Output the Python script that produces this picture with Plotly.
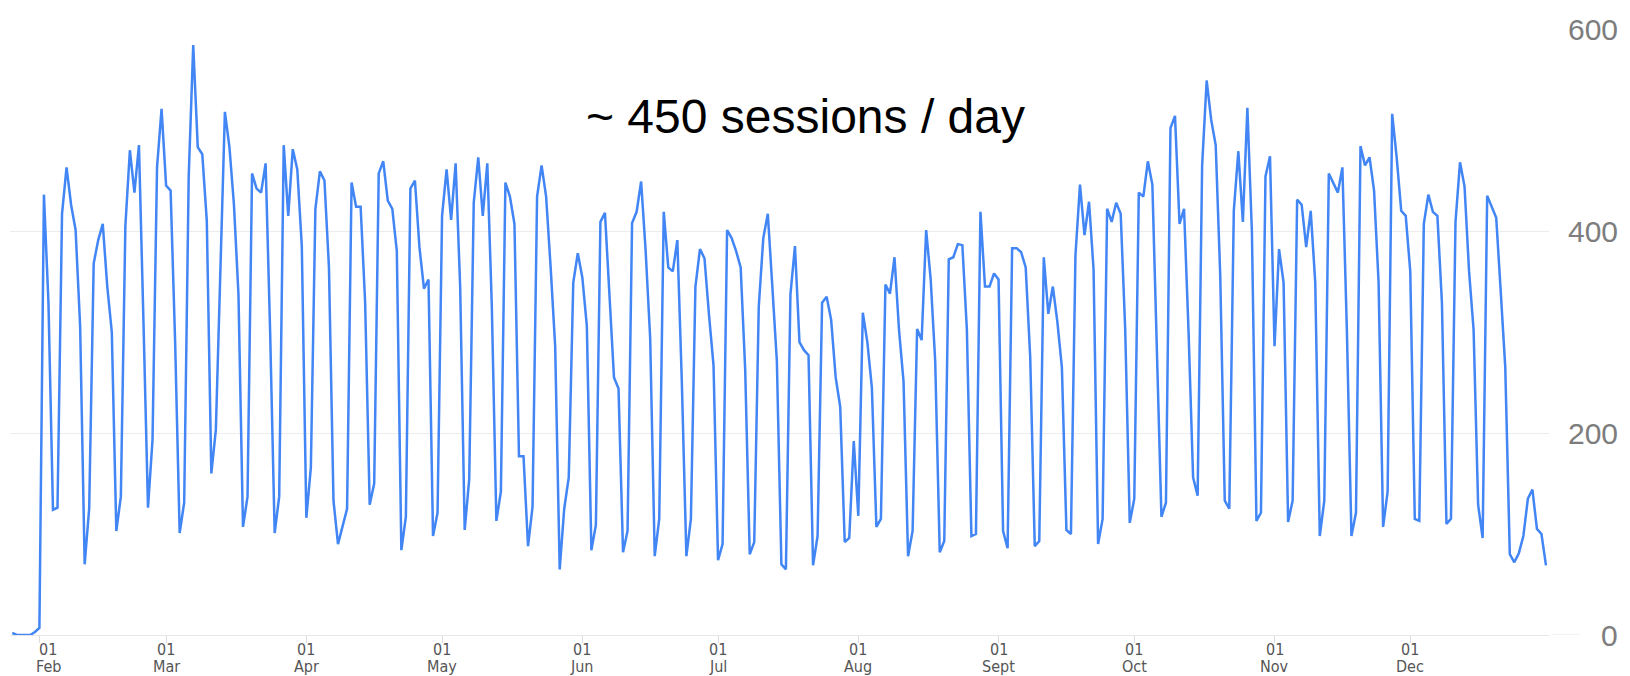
import pandas as pd
import plotly.graph_objects as go

start_date = "2023-01-26"
sessions = [
    2, 0, 0, 0, 0, 3, 7, 436, 329, 124, 126, 417, 463, 426, 401, 306, 70, 125,
    368, 391, 407, 345, 300, 103, 137, 405, 480, 438, 485, 310, 126, 193, 463, 521,
    445, 440, 290, 101, 131, 454, 584, 483, 476, 410, 160, 203, 360, 518, 483, 426,
    337, 107, 137, 457, 442, 438, 467, 300, 101, 137, 485, 415, 481, 461, 385, 116,
    166, 422, 459, 450, 364, 133, 90, 107, 125, 448, 424, 424, 329, 129, 150, 457,
    469, 430, 422, 380, 84, 117, 442, 450, 384, 343, 352, 98, 121, 415, 461, 411,
    467, 345, 104, 154, 428, 473, 415, 467, 325, 113, 142, 448, 434, 407, 177, 177,
    88, 127, 434, 465, 434, 364, 286, 65, 125, 156, 349, 378, 354, 306, 84, 109,
    409, 418, 341, 255, 244, 82, 103, 408, 419, 449, 380, 294, 78, 115, 419, 364,
    360, 391, 250, 78, 115, 345, 382, 373, 317, 267, 74, 90, 401, 393, 380, 364,
    263, 80, 92, 325, 393, 417, 345, 271, 70, 65, 337, 385, 290, 282, 277, 69,
    98, 329, 335, 312, 255, 226, 92, 96, 192, 118, 319, 290, 245, 107, 115, 347,
    338, 374, 302, 251, 78, 103, 303, 292, 401, 352, 271, 82, 93, 372, 374, 387,
    386, 302, 98, 100, 419, 345, 345, 358, 352, 103, 86, 383, 383, 379, 364, 275,
    88, 93, 374, 318, 345, 310, 265, 104, 100, 376, 446, 396, 429, 362, 90, 115,
    422, 409, 428, 417, 302, 111, 135, 438, 434, 469, 446, 286, 117, 131, 502, 514,
    407, 422, 300, 156, 138, 465, 549, 510, 485, 356, 133, 125, 420, 479, 409, 522,
    399, 113, 121, 454, 474, 286, 382, 349, 112, 133, 431, 426, 384, 420, 349, 98,
    133, 457, 448, 438, 463, 300, 98, 121, 484, 465, 473, 440, 349, 107, 142, 516,
    473, 420, 415, 360, 115, 113, 407, 436, 419, 415, 329, 110, 115, 409, 468, 444,
    360, 302, 129, 96, 435, 424, 413, 340, 265, 80, 72, 81, 98, 135, 144, 105,
    100, 69,
]
dates = pd.date_range(start_date, periods=len(sessions), freq="D")

month_ticks = ["2023-02-01", "2023-03-01", "2023-04-01", "2023-05-01", "2023-06-01",
               "2023-07-01", "2023-08-01", "2023-09-01", "2023-10-01", "2023-11-01",
               "2023-12-01"]
month_labels = ["Feb", "Mar", "Apr", "May", "Jun", "Jul", "Aug", "Sept", "Oct", "Nov", "Dec"]
day_label = "01"
y_ticks = [0, 200, 400, 600]
annotation_text = "~ 450 sessions / day"

# page body has an 8px margin, so the figure is offset by 8px
W, H = 1622, 668
ML, MR, MT, MB = 2, 81, 21, 41
plot_w = W - ML - MR
plot_h = H - MT - MB

fig = go.Figure()
fig.add_trace(go.Scatter(
    x=dates, y=sessions, mode="lines",
    line=dict(color="#4285F4", width=2.5),
    hoverinfo="x+y", showlegend=False,
))

x0 = dates[0] - pd.Timedelta(hours=12)
x1 = dates[-1] + pd.Timedelta(hours=16)

fig.update_layout(
    width=W, height=H,
    margin=dict(l=ML, r=MR, t=MT, b=MB),
    paper_bgcolor="white", plot_bgcolor="white",
    font=dict(family="Liberation Sans, Arial, sans-serif"),
    xaxis=dict(
        range=[x0, x1], showgrid=False, zeroline=False, automargin=False,
        tickvals=month_ticks, showticklabels=False,
        ticks="outside", ticklen=7, tickcolor="#dddddd", tickwidth=1,
        showline=True, linecolor="#e6e6e6", linewidth=1,
    ),
    yaxis=dict(
        range=[0, 600], side="right", automargin=False,
        tickvals=y_ticks, showticklabels=False,
        showgrid=True, gridcolor="#ececec", gridwidth=1,
        zeroline=False, ticks="",
    ),
)

tick_font = dict(family="Liberation Sans Narrow, DejaVu Sans Condensed, Arial Narrow, Arial",
                 size=16, color="#555555")
for i, (t, m) in enumerate(zip(month_ticks, month_labels)):
    shift = 9 if i == 0 else 0
    fig.add_annotation(x=t, xref="x", y=0, yref="paper", yshift=-14, xshift=shift,
                       text=day_label, showarrow=False, xanchor="center", yanchor="middle",
                       font=tick_font)
    fig.add_annotation(x=t, xref="x", y=0, yref="paper", yshift=-31, xshift=shift,
                       text=m, showarrow=False, xanchor="center", yanchor="middle",
                       font=tick_font)

label_right = (1620 - 8 - ML) / plot_w
for v in y_ticks:
    fig.add_annotation(
        x=label_right, xref="paper", y=v, yref="y", text=str(v), showarrow=False,
        xanchor="right", yanchor="middle",
        font=dict(family="Liberation Sans, Arial, sans-serif", size=30, color="#7d7d7d"),
    )

fig.add_shape(type="line", xref="paper", yref="y",
              x0=(1552 - 8 - ML) / plot_w, x1=(1580 - 8 - ML) / plot_w, y0=0, y1=0,
              line=dict(color="#e6e6e6", width=1))

fig.add_annotation(
    x=(805 - 8 - ML) / plot_w, xref="paper",
    y=(H - MB - (116 - 8)) / plot_h, yref="paper",
    text=annotation_text, showarrow=False, xanchor="center", yanchor="middle",
    font=dict(family="Liberation Sans, Arial, sans-serif", size=48, color="#000000"),
)

fig.write_html("out.html")
